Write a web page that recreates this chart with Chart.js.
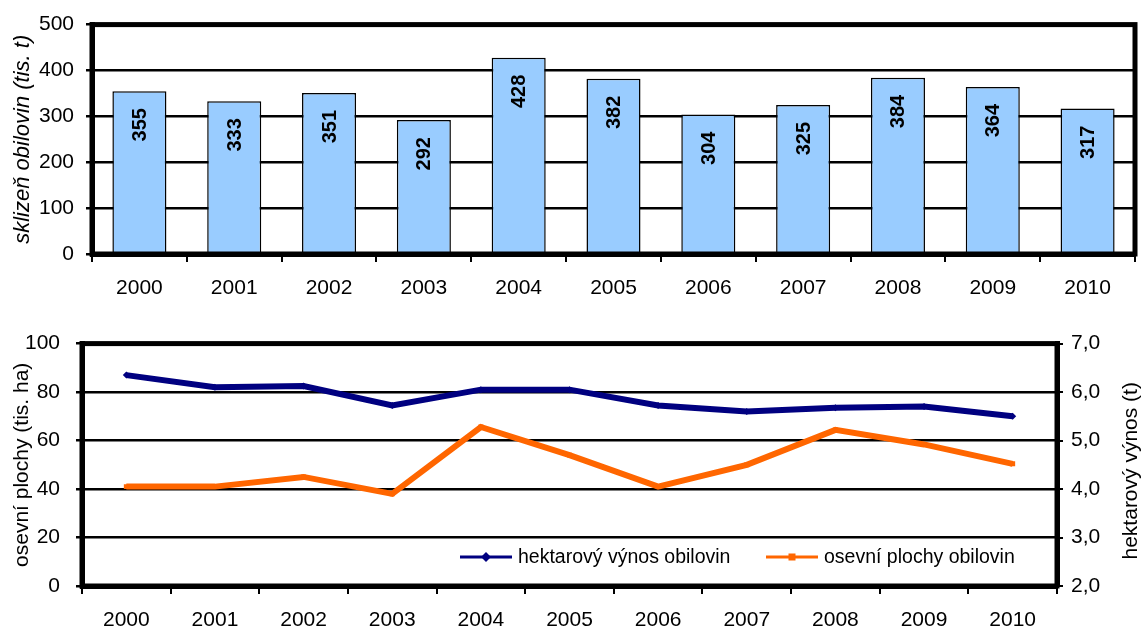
<!DOCTYPE html>
<html>
<head>
<meta charset="utf-8">
<script src="https://cdn.jsdelivr.net/npm/chart.js@4.4.0/dist/chart.umd.min.js"></script>
<style>
  html, body { margin: 0; padding: 0; background: #fff; }
  #horni { position: absolute; left: 0; top: 0; width: 1143px; height: 310px; }
  #dolni { position: absolute; left: 0; top: 315px; width: 1143px; height: 318px; }
</style>
</head>
<body>
<div id="horni"><canvas id="graf-sklizen"></canvas></div>
<div id="dolni"><canvas id="graf-plochy"></canvas></div>
<script>
// Data
const roky = ["2000", "2001", "2002", "2003", "2004", "2005", "2006", "2007", "2008", "2009", "2010"];
const sklizen = [355, 333, 351, 292, 428, 382, 304, 325, 384, 364, 317];
const plochy = [87, 82, 82.5, 74.5, 81, 81, 74.5, 72, 73.5, 74, 70]; // tis. ha, levá osa
const vynos = [4.05, 4.05, 4.25, 3.9, 5.28, 4.7, 4.05, 4.5, 5.22, 4.92, 4.52]; // t, pravá osa
const popisLegendy = ["hektarový výnos obilovin", "osevní plochy obilovin"];

Chart.defaults.font.family = "'Liberation Sans', Arial, sans-serif";
Chart.defaults.color = "#000";
Chart.defaults.animation = false;

// ramecek kolem plochy grafu
const ramecek = {
  id: "ramecek",
  afterDraw(chart) {
    const a = chart.chartArea, c = chart.ctx;
    c.save();
    c.strokeStyle = "#000";
    c.lineWidth = 5;
    c.strokeRect(a.left, a.top, a.right - a.left, a.bottom - a.top);
    c.restore();
  }
};

// svisle popisky hodnot ve sloupcich
const popiskySloupcu = {
  id: "popiskySloupcu",
  afterDatasetsDraw(chart) {
    const c = chart.ctx;
    const meta = chart.getDatasetMeta(0);
    c.save();
    c.font = "bold 20px 'Liberation Sans', Arial, sans-serif";
    c.fillStyle = "#000";
    meta.data.forEach((bar, i) => {
      c.save();
      c.translate(bar.x, bar.y + 17);
      c.rotate(-Math.PI / 2);
      c.textAlign = "right";
      c.textBaseline = "middle";
      c.fillText(String(sklizen[i]), 0, 1);
      c.restore();
    });
    c.restore();
  }
};

new Chart(document.getElementById("graf-sklizen"), {
  type: "bar",
  data: {
    labels: roky,
    datasets: [{
      data: sklizen,
      backgroundColor: "#99CCFF",
      borderColor: "#000",
      borderWidth: 1.5,
      barPercentage: 0.57,
      categoryPercentage: 1
    }]
  },
  options: {
    responsive: true,
    maintainAspectRatio: false,
    layout: { padding: { top: 22, right: 8, left: 0, bottom: 0 } },
    plugins: { legend: { display: false }, tooltip: { enabled: false } },
    scales: {
      x: {
        offset: true,
        grid: { offset: true, drawOnChartArea: false, color: "#000", lineWidth: 2, tickLength: 8 },
        border: { color: "#000", width: 5 },
        ticks: { font: { size: 21 }, padding: 14, maxRotation: 0 },
        afterFit(s) { s.height = 56; }
      },
      y: {
        min: 0, max: 500,
        ticks: { stepSize: 100, font: { size: 21 }, padding: 12 },
        grid: { color: "#000", lineWidth: 2.5, tickLength: 6 },
        border: { color: "#000", width: 5 },
        title: {
          display: true,
          text: "sklizeň obilovin (tis. t)",
          font: { size: 22, style: "italic" },
          padding: { top: 10, bottom: 0 }
        },
        afterFit(s) { s.width = 92; }
      }
    }
  },
  plugins: [ramecek, popiskySloupcu]
});

// nadpis prave osy (cte se zdola nahoru) a legenda uvnitr grafu
const pravyTitulek = {
  id: "pravyTitulek",
  afterDraw(chart) {
    const c = chart.ctx, a = chart.chartArea;
    c.save();
    c.font = "21px 'Liberation Sans', Arial, sans-serif";
    c.fillStyle = "#000";
    c.translate(1131, (a.top + a.bottom) / 2 + 6);
    c.rotate(-Math.PI / 2);
    c.textAlign = "center";
    c.textBaseline = "middle";
    c.fillText("hektarový výnos (t)", 0, 0);
    c.restore();
  }
};

const legendaUvnitr = {
  id: "legendaUvnitr",
  afterDraw(chart) {
    const c = chart.ctx, a = chart.chartArea;
    const y = a.bottom - 29;
    const pozice = [460, 766];
    c.save();
    c.font = "19.5px 'Liberation Sans', Arial, sans-serif";
    c.textBaseline = "middle";
    chart.data.datasets.forEach((ds, i) => {
      const x = pozice[i];
      c.strokeStyle = ds.borderColor;
      c.lineWidth = 3;
      c.beginPath();
      c.moveTo(x, y);
      c.lineTo(x + 52, y);
      c.stroke();
      c.fillStyle = ds.borderColor;
      c.save();
      c.translate(x + 26, y);
      if (ds.pointStyle === "rectRot") c.rotate(Math.PI / 4);
      c.fillRect(-3.5, -3.5, 7, 7);
      c.restore();
      c.fillStyle = "#000";
      c.fillText(ds.label, x + 58, y + 1);
    });
    c.restore();
  }
};

new Chart(document.getElementById("graf-plochy"), {
  type: "line",
  data: {
    labels: roky,
    datasets: [
      {
        label: popisLegendy[0],
        data: plochy,
        yAxisID: "y",
        borderColor: "#000080",
        backgroundColor: "#000080",
        borderWidth: 6,
        pointStyle: "rectRot",
        pointRadius: 3.5,
        pointBorderWidth: 0,
        tension: 0
      },
      {
        label: popisLegendy[1],
        data: vynos,
        yAxisID: "y2",
        borderColor: "#FF6600",
        backgroundColor: "#FF6600",
        borderWidth: 6,
        pointStyle: "rect",
        pointRadius: 3.5,
        pointBorderWidth: 0,
        tension: 0
      }
    ]
  },
  options: {
    responsive: true,
    maintainAspectRatio: false,
    layout: { padding: { top: 27, right: 0, left: 0, bottom: 0 } },
    plugins: { legend: { display: false }, tooltip: { enabled: false } },
    scales: {
      x: {
        offset: true,
        grid: { offset: true, drawOnChartArea: false, color: "#000", lineWidth: 2, tickLength: 8 },
        border: { color: "#000", width: 5 },
        ticks: { font: { size: 21 }, padding: 14, maxRotation: 0 },
        afterFit(s) { s.height = 47; }
      },
      y: {
        position: "left",
        min: 0, max: 100,
        ticks: { stepSize: 20, font: { size: 21 }, padding: 16 },
        grid: { color: "#000", lineWidth: 2.5, tickLength: 6 },
        border: { color: "#000", width: 5 },
        title: {
          display: true,
          text: "osevní plochy (tis. ha)",
          font: { size: 21 },
          padding: { top: 10, bottom: 0 }
        },
        afterFit(s) { s.width = 82; }
      },
      y2: {
        position: "right",
        min: 2, max: 7,
        ticks: {
          stepSize: 1,
          font: { size: 21 },
          padding: 8,
          callback: v => v.toFixed(1).replace(".", ",")
        },
        grid: { drawOnChartArea: false, color: "#000", lineWidth: 2, tickLength: 6 },
        border: { color: "#000", width: 5 },
        afterFit(s) { s.width = 86; }
      }
    }
  },
  plugins: [ramecek, pravyTitulek, legendaUvnitr]
});
</script>
</body>
</html>
